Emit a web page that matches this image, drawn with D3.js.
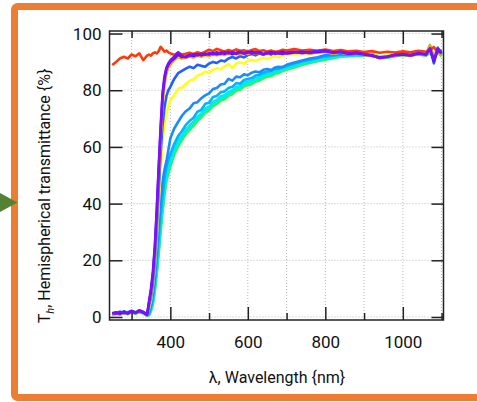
<!DOCTYPE html>
<html>
<head>
<meta charset="utf-8">
<script src="https://cdn.jsdelivr.net/npm/d3@7"></script>
<style>
  body { margin: 0; background: #fff; }
  svg { display: block; font-family: Roboto, "Liberation Sans", sans-serif; }
</style>
</head>
<body>
<svg id="chart" width="477" height="402"></svg>
<script>
// wavelengths (nm) shared by every curve
const wavelengths = [
  250,260,270,280,290,300,310,320,330,340,
  345,350,355,360,365,370,375,380,385,390,395,
  400,410,420,430,440,450,460,470,480,490,
  500,510,520,530,540,550,560,570,580,590,
  600,610,620,630,640,650,660,670,680,690,700,
  720,740,760,780,800,820,840,860,880,900,920,940,960,980,1000,1020,1040,1060,
  1070,1080,1090,1100];

// hemispherical transmittance (%) per sample
const green = [
  0.6,1.1,0.9,1.4,1,1.6,1.1,1.7,1.2,0.4,
  0.6,2,4.5,9,15,22,30,37,43,48,50.5,
  53,57.3,60.2,62.4,64.5,66,67.4,69.2,70.4,72,
  72.9,74.4,75.1,76.4,76.8,78,78.6,79.8,80.2,81.3,
  81.8,82.1,83,83.4,84.2,84.8,85,85.8,86,86.8,87.2,
  88,88.9,89.6,90.2,90.8,91.3,91.8,92,92.2,92.2,92.4,91.3,91.5,92,92.4,92.2,92.6,92.2,
  93.2,91,93.4,92];
const aqua = [
  0.8,1.3,1.1,1.6,1.2,1.8,1.3,1.9,1.4,0.5,
  0.8,2.5,5,10,16.5,24,32,39,45,49.5,52,
  54.5,58.5,61.3,63.2,65.4,66.8,68.4,69.9,71.2,72.8,
  73.6,75.2,75.9,77.1,77.6,78.7,79.3,80.6,80.8,82,
  82.4,82.8,83.7,84,84.9,85.4,85.6,86.4,86.6,87.3,87.6,
  88.5,89.3,90,90.6,91.1,91.6,92,92.2,92.4,92.3,92.6,91.4,91.7,92.2,92.5,92.3,92.8,92.4,
  95,90.5,94,92.4];
const cyan = [
  1,1.4,1.6,1.2,1.8,1.3,1.9,2,1.5,0.6,
  1,3,6,11,18,26,34,41,47,51,53.5,
  55.5,59.5,62.3,64,66.2,67.6,69,70.6,71.8,73.6,
  74.2,76,76.6,77.9,78.2,79.4,80,81.2,81.4,82.6,
  83,83.4,84.3,84.6,85.4,85.9,86.1,86.9,87,87.7,88,
  88.9,89.7,90.3,90.9,91.4,91.9,92.2,92.4,92.6,92.6,92.8,91.6,91.8,92.4,92.8,92.5,93,92.8,
  96,91.2,95,93];
const lightBlue = [
  1.1,1.5,1.2,1.9,1.4,2.1,1.5,2.2,1.7,0.7,
  1.2,3.5,7,12.5,20,28.5,36.5,43,49,53,55.5,
  57.5,61,63.8,65.6,67.8,69.2,70.3,72.4,73.1,75.2,
  75.6,77.6,78,79.3,79.6,80.8,81.2,82.5,82.3,83.6,
  84,84.3,85.2,85.4,86.2,86.6,86.8,87.6,87.5,88.3,88.6,
  89.4,90.2,90.8,91.4,91.9,92.2,92.6,92.5,92.8,92.6,92.7,91.7,91.9,92.5,92.9,92.6,93.1,92.9,
  94.5,91.8,94.6,93.2];
const skyBlue = [
  1.2,1.6,1.3,2,1.5,2.2,1.6,2.4,1.8,0.8,
  2,4,8,14,22,32,41,48,52,55,59,
  63,66.5,68.8,71,72.6,73.6,75.4,75.8,77.2,78.2,
  78.9,80.4,80.8,82,82.3,84,83.4,84.8,84.6,85.6,
  85.3,86.2,86.6,86.3,87.2,87.5,87.1,88,88.3,88.1,89,
  89.8,90.5,91.2,91.6,92.4,92.5,92.8,92.6,93,92.6,92.5,91.8,92,92.5,92.9,92.6,93.1,92.9,
  94,92.2,94.4,93.5];
const yellow = [
  1,1.3,1.5,1.2,1.7,1.3,1.9,2.1,1.6,0.7,
  3,6,11,18,28,40,52,62,68,72,74.5,
  76.5,78.2,80.5,80.9,82.2,83.4,83.8,85.2,85.6,86.6,
  86.1,87.2,87.8,87.4,88.5,89.2,87.9,89.5,89.9,89.4,
  90.4,90.8,90.3,91,91.4,91,91.7,92,91.6,92.3,92.5,
  92.8,93.1,92.9,93.3,93.5,93,93.3,92.9,93.1,92.8,92.6,92,92.2,92.6,93,92.7,93.2,93,
  93.6,92.5,93.8,93.2];
const blue = [
  1.2,1.5,1.1,1.9,1.4,2,1.6,2.2,1.7,0.8,
  4,7,12,20,31,45,58,68,74,78,80,
  81.2,84,86,86.8,87.6,88.3,87.8,89,88.6,88.3,
  89.4,90,89.6,90.5,90.2,91.2,91.7,91.2,92,91.6,
  92.4,92.8,92.3,93,92.6,93.1,92.7,93.3,92.9,93.2,93,
  93.3,93.5,93.1,93.4,93.7,93.1,93.4,92.8,93,92.6,92.2,91.5,91.7,92.3,92.6,92.3,92.9,92.4,
  95.5,89.5,95,92.6];
const orange = [
  1.1,1.4,1,1.7,1.2,1.9,1.3,2,1.5,0.7,
  4.5,8,14,22,34,49,63,75,82,86,88,
  89,90.6,91.8,91.2,91.5,91.9,91.5,92.2,91.8,92.4,
  92.1,92.7,92.3,92.8,92.4,93,92.6,93.1,92.7,93.2,
  92.8,93.3,92.9,93.2,92.6,93,93.3,92.8,93.1,93.4,92.9,
  93.2,93.4,93,93.3,93.6,93,93.3,92.7,93,92.4,92.1,91.6,91.8,92.3,92.5,92.2,92.8,92.4,
  95.8,91.4,93.6,92.4];
const red = [
  88.9,90,91.2,91.8,91.2,92.6,92,93,90.6,92.2,
  92.6,92.2,93,93.4,93,93.8,95.3,94.5,93.6,94,93.4,
  93,92.5,93.2,92.6,92.9,93.2,92.7,93.4,93,93.6,
  94.3,93.8,94.6,94.1,93.6,94.2,93.8,94.4,93.9,94.1,
  93.6,94.2,94.5,93.8,94.1,93.6,94,93.5,93.8,94.3,94,
  94.5,94,94.3,93.9,94.4,93.8,94.2,93.7,93.9,93.5,93.8,93.2,93.6,93.3,93.7,93.4,93.9,93.6,
  94.2,95.2,93.4,94];
const indigo = [
  1.3,1.6,1.1,1.8,1.2,2,1.5,2.1,1.6,0.7,
  5,9,15,24,37,52,66,78,84,87.5,89,
  90,91.2,92.6,91.7,91.9,92.4,92.1,92.7,92.3,92.9,
  92.6,93.1,92.7,93.3,92.9,93.4,92.8,93.2,93.6,92.9,
  93.3,93.6,93,93.4,92.8,93.1,93.5,92.9,93.2,93.6,93,
  93.3,93.6,93.2,93.5,93.8,93.3,93.5,92.8,93.1,92.6,92.2,91.6,91.9,92.4,92.6,92.3,93,92.6,
  94.4,90.2,94.2,93];
const violet = [
  1.4,1.2,1.9,1.3,1.6,2.1,1.4,2.3,1.8,0.8,
  5.5,10,16,25,38,53,67,79,85,88,89.5,
  90.5,91.8,93.4,92.1,91.6,92.2,92.8,92.3,92.9,92.5,
  93.2,92.7,93.4,92.8,93.5,93,93.6,92.8,93.4,93.1,
  93.6,92.9,93.5,93.1,92.6,93.3,92.7,93.5,93,92.8,93.3,
  93.6,93.1,93.5,93.8,94,93.2,93.6,93,93.3,92.8,92.4,91.4,91.8,92.5,92.8,92.4,93.1,92.6,
  94.8,90.8,94.6,93.4];

const seriesList = [
  { values: green, color: "#3cf23c" },
  { values: aqua, color: "#00f5c8" },
  { values: cyan, color: "#00e8ff" },
  { values: lightBlue, color: "#00b4ff" },
  { values: skyBlue, color: "#1a8cff" },
  { values: yellow, color: "#ffff1a" },
  { values: blue, color: "#2060ff" },
  { values: orange, color: "#ffa500" },
  { values: red, color: "#ff3a0a" },
  { values: indigo, color: "#5a10ff" },
  { values: violet, color: "#7a10ff" },
];

const xMajor = [400, 600, 800, 1000];
const xMinor = [300, 500, 700, 900, 1100];
const xGrid = [300, 400, 500, 600, 700, 800, 900, 1000, 1100];
const yTicks = [0, 20, 40, 60, 80, 100];

const svg = d3.select("#chart");

// orange frame and green pointer
svg.append("rect")
  .attr("x", 14.5).attr("y", 6.5)
  .attr("width", 520).attr("height", 391)
  .attr("rx", 3)
  .attr("fill", "#fff")
  .attr("stroke", "#ed7d31")
  .attr("stroke-width", 7);

svg.append("path")
  .attr("d", "M0,193 L17.5,202.5 L0,212 Z")
  .attr("fill", "#548235");

const plotLeft = 109.5, plotRight = 443.5, plotTop = 31, plotBottom = 320;
const x = d3.scaleLinear().domain([243, 1105]).range([plotLeft, plotRight]);
const y = d3.scaleLinear().domain([-1.06, 100.9]).range([plotBottom, plotTop]);

const g = svg.append("g");

// dotted grid
g.selectAll(".vgrid").data(xGrid).enter().append("line")
  .attr("x1", (d) => x(d)).attr("x2", (d) => x(d))
  .attr("y1", plotTop).attr("y2", plotBottom)
  .attr("stroke", "#b8b8b8").attr("stroke-width", 1)
  .attr("stroke-dasharray", "1,2");
g.selectAll(".hgrid").data(yTicks).enter().append("line")
  .attr("x1", plotLeft).attr("x2", plotRight)
  .attr("y1", (d) => y(d)).attr("y2", (d) => y(d))
  .attr("stroke", "#b8b8b8").attr("stroke-width", 1)
  .attr("stroke-dasharray", "1,2");

// curves
const line = d3.line()
  .x((d, i) => x(wavelengths[i]))
  .y((d) => y(d))
  .curve(d3.curveLinear);

g.selectAll(".curve").data(seriesList).enter().append("path")
  .attr("fill", "none")
  .attr("stroke", (d) => d.color)
  .attr("stroke-width", 2.6)
  .attr("stroke-linejoin", "round")
  .attr("d", (d) => line(d.values));

// axes: ticks point inward on all four sides
function styleAxis(sel) {
  sel.select(".domain").remove();
  sel.selectAll(".tick line").attr("stroke", "#222").attr("stroke-width", 1.5);
  sel.selectAll("text").attr("fill", "#111").style("font-size", "17px")
    .style("font-family", "Roboto, 'Liberation Sans', sans-serif");
}

g.append("g").attr("transform", `translate(0,${plotBottom})`)
  .call(d3.axisBottom(x).tickValues(xMajor).tickSize(-13).tickPadding(16).tickFormat(d3.format("d")))
  .call(styleAxis);
g.append("g").attr("transform", `translate(0,${plotBottom})`)
  .call(d3.axisBottom(x).tickValues(xMinor).tickSize(-7).tickFormat(""))
  .call(styleAxis);
g.append("g").attr("transform", `translate(0,${plotTop})`)
  .call(d3.axisTop(x).tickValues(xMajor).tickSize(-13).tickFormat(""))
  .call(styleAxis);
g.append("g").attr("transform", `translate(0,${plotTop})`)
  .call(d3.axisTop(x).tickValues(xMinor).tickSize(-7).tickFormat(""))
  .call(styleAxis);
g.append("g").attr("transform", `translate(${plotLeft},0)`)
  .call(d3.axisLeft(y).tickValues(yTicks).tickSize(-13).tickPadding(8))
  .call(styleAxis);
g.append("g").attr("transform", `translate(${plotRight},0)`)
  .call(d3.axisRight(y).tickValues(yTicks).tickSize(-12).tickFormat(""))
  .call(styleAxis);

g.append("rect")
  .attr("x", plotLeft).attr("y", plotTop)
  .attr("width", plotRight - plotLeft).attr("height", plotBottom - plotTop)
  .attr("fill", "none").attr("stroke", "#222").attr("stroke-width", 1.5);

// axis titles
svg.append("text")
  .attr("x", 277).attr("y", 383)
  .attr("text-anchor", "middle")
  .attr("fill", "#111")
  .style("font-size", "16px")
  .text("λ, Wavelength {nm}");

const yTitle = svg.append("text")
  .attr("transform", "translate(50,196) rotate(-90)")
  .attr("text-anchor", "middle")
  .attr("fill", "#111")
  .style("font-size", "16px");
yTitle.append("tspan").text("T");
yTitle.append("tspan").attr("dy", 4).style("font-size", "11px").style("font-style", "italic").text("h");
yTitle.append("tspan").attr("dy", -4).text(", Hemispherical transmittance {%}");
</script>
</body>
</html>
